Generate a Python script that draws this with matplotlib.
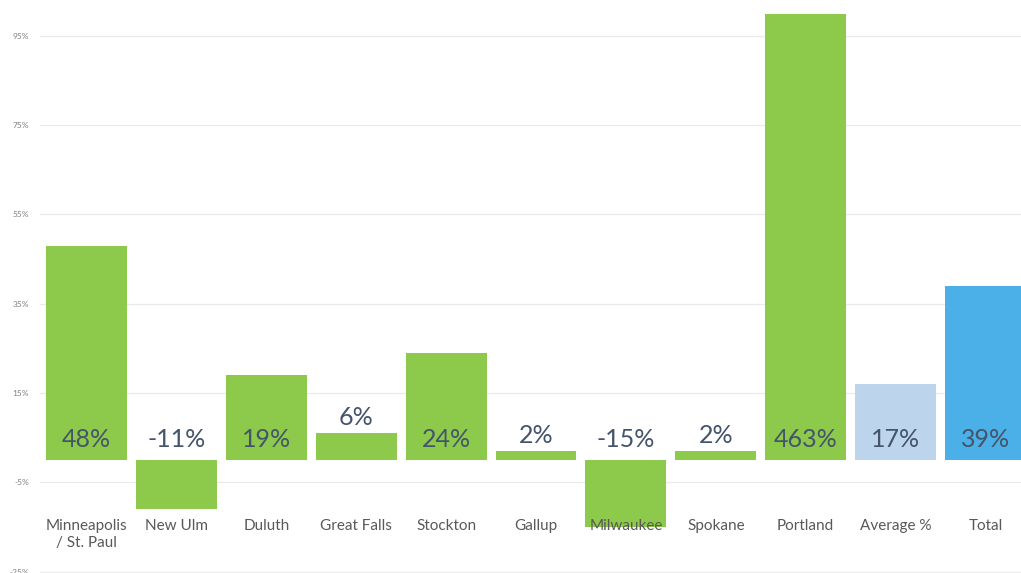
import matplotlib
matplotlib.use("Agg")
import matplotlib.pyplot as plt
import numpy as np

# ── data ─────────────────────────────────────────────────────────────────────

cities = ["Minneapolis\n/ St. Paul", "New Ulm", "Duluth", "Great Falls",
          "Stockton", "Gallup", "Milwaukee", "Spokane", "Portland",
          "Average %", "Total"]
growth = [48, -11, 19, 6, 24, 2, -15, 2, 463, 17, 39]
yticks = [-25, -5, 15, 35, 55, 75, 95]

GREEN = "#8DC94A"
LIGHT_BLUE = "#BDD5EC"
BLUE = "#4BAFE8"
colors = [GREEN] * 9 + [LIGHT_BLUE, BLUE]

plt.rcParams["font.family"] = ["Lato", "DejaVu Sans"]

fig = plt.figure(figsize=(10.21, 5.73), dpi=100)
ax = fig.add_axes([40 / 1021, 0, 981 / 1021, 559 / 573])

x = np.arange(len(cities))
ax.bar(x, growth, width=0.9, color=colors, zorder=2)

ax.set_xlim(-0.517, 10.395)
ax.set_ylim(-25.3, 99.9)
ax.set_yticks(yticks)
ax.set_yticklabels([f"{t}%" for t in yticks], fontsize=6, color="#7F7F7F")
ax.tick_params(axis="y", length=0, pad=8)
ax.set_xticks([])
ax.grid(axis="y", color="#EAEAEA", linewidth=0.9, zorder=0)
for s in ax.spines.values():
    s.set_visible(False)

# value labels near the base, lifted above short bars
for xi, v in zip(x, growth):
    y = max(2.9, v + 1.8) if 0 < v < 10 else 2.9
    ax.text(xi, y, f"{v}%", ha="center", va="baseline",
            fontsize=18, color="#44546A", zorder=3)

# category labels
for xi, name in zip(x, cities):
    ax.text(xi, -13.2, name, ha="center", va="top", fontsize=11,
            color="#595959", linespacing=1.3, zorder=3)

plt.savefig("out.png", dpi=100)
